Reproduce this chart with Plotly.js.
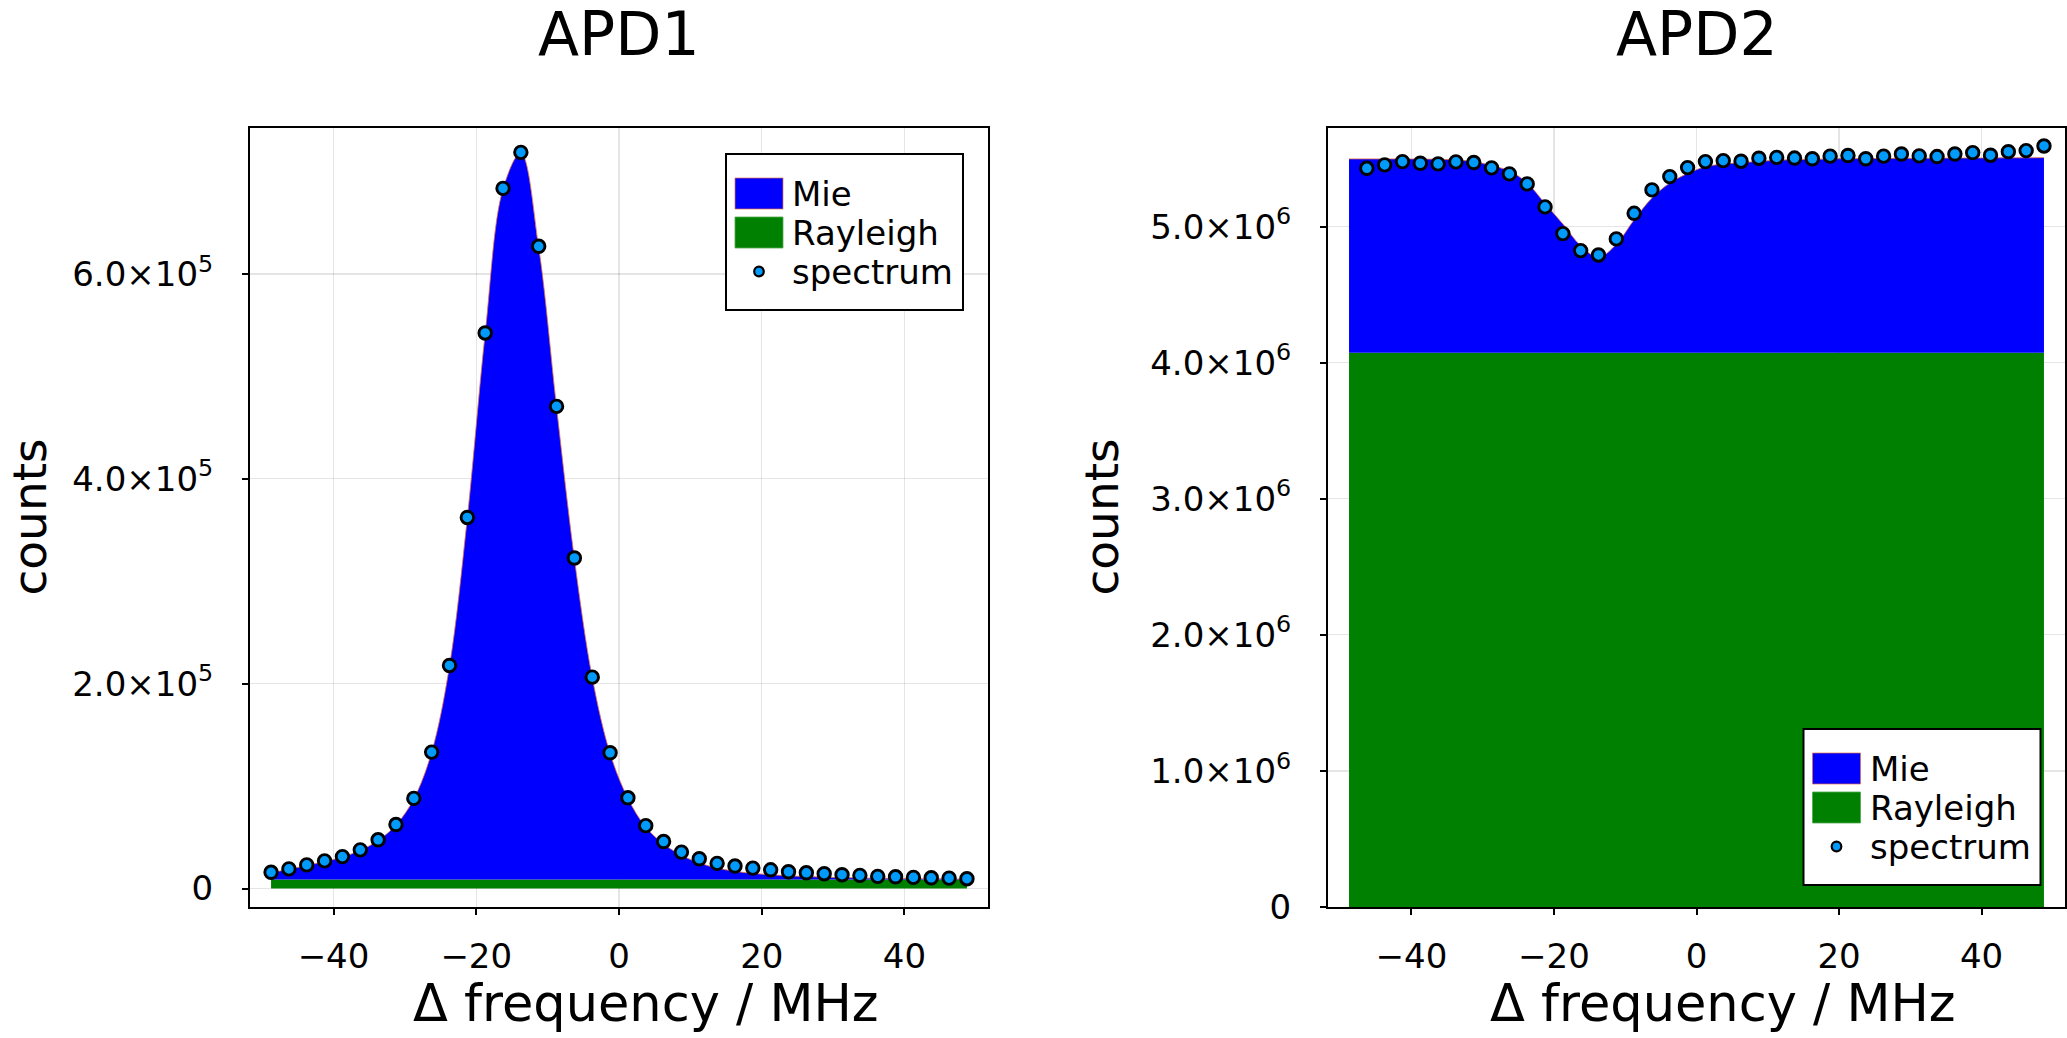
<!DOCTYPE html>
<html>
<head>
<meta charset="utf-8">
<script src="https://cdn.plot.ly/plotly-3.0.1.min.js"></script>
<style>html,body{margin:0;padding:0;background:#fff;}#plot{width:2067px;height:1038px;}</style>
</head>
<body>
<div id="plot"></div>
<script>
// ---------------- data ----------------
const freq = [-48.75,-46.25,-43.75,-41.25,-38.75,-36.25,-33.75,-31.25,-28.75,-26.25,-23.75,-21.25,-18.75,-16.25,-13.75,-11.25,-8.75,-6.25,-3.75,-1.25,1.25,3.75,6.25,8.75,11.25,13.75,16.25,18.75,21.25,23.75,26.25,28.75,31.25,33.75,36.25,38.75,41.25,43.75,46.25,48.75];

const apd1Spectrum = [15900,19200,23100,27000,31200,37800,47600,62500,88000,133200,217800,362300,542400,683600,718750,627000,470700,322700,206400,132600,88600,61400,45900,35600,29100,24600,22000,20000,18300,16400,15400,14500,13500,12900,11900,11500,10900,10500,10200,9600];
const apd1Rayleigh = [8800,8800,8800,8800,8800,8800,8800,8800,8800,8800,8800,8800,8800,8800,8800,8800,8800,8800,8800,8800,8800,8800,8800,8800,8800,8800,8800,8800,8800,8800,8800,8800,8800,8800,8800,8800,8800,8800,8800,8800];
const apd1Mie = [6700,10000,13700,17500,22000,28500,38200,53200,78700,124200,208200,353200,533200,674200,709200,617200,461200,313200,197200,123200,79200,51200,34700,23700,16200,11200,8000,6000,4600,3600,2900,2300,1900,1600,1300,1100,900,750,600,500];

const apd2Spectrum = [null,5429000,5454000,5478000,5466000,5461000,5476000,5471000,5432000,5388000,5314000,5145000,4949000,4824000,4792000,4910000,5098000,5270000,5368000,5434000,5478000,5485000,5481000,5503000,5509000,5504000,5499000,5518000,5523000,5499000,5518000,5534000,5520000,5515000,5534000,5544000,5525000,5551000,5559000,5593000];
const apd2Rayleigh = [4073000,4073000,4073000,4073000,4073000,4073000,4073000,4073000,4073000,4073000,4073000,4073000,4073000,4073000,4073000,4073000,4073000,4073000,4073000,4073000,4073000,4073000,4073000,4073000,4073000,4073000,4073000,4073000,4073000,4073000,4073000,4073000,4073000,4073000,4073000,4073000,4073000,4073000,4073000,4073000];
const apd2Mie = [1425000,1425000,1425000,1425000,1424000,1422000,1417000,1405000,1375000,1337000,1247000,1097000,947000,787000,702000,797000,977000,1137000,1247000,1317000,1367000,1387000,1397000,1407000,1415000,1420000,1423000,1425000,1427000,1427000,1428000,1429000,1430000,1430000,1431000,1432000,1432000,1433000,1433000,1434000];

const xTickVals = [-40,-20,0,20,40];
const xTickText = ['\u221240','\u221220','0','20','40'];
const y1TickVals = [0,200000,400000,600000];
const y1TickText = ['0','2.0\u00d710<sup>5</sup>','4.0\u00d710<sup>5</sup>','6.0\u00d710<sup>5</sup>'];
const y2TickVals = [0,1000000,2000000,3000000,4000000,5000000];
const y2TickText = ['0','1.0\u00d710<sup>6</sup>','2.0\u00d710<sup>6</sup>','3.0\u00d710<sup>6</sup>','4.0\u00d710<sup>6</sup>','5.0\u00d710<sup>6</sup>'];

const titles = ['APD1','APD2'];
const legendLabels = ['Mie','Rayleigh','spectrum'];
const xTitle = '\u0394 frequency / MHz';
const yTitle = 'counts';

// ---------------- styling ----------------
const FONT = 'DejaVu Sans, Verdana, sans-serif';
const BLUE = '#0000ff', GREEN = '#008000', MARK = '#009afa';
const W = 2067, H = 1038;
const M = {l: 250, r: 2, t: 128, b: 131};
const PW = W - M.l - M.r, PH = H - M.t - M.b;
const px = v => (v - M.l) / PW;
const py = v => (H - M.b - v) / PH;

function areaTraces(xa, ya, group, rayl, mie, spec) {
  return [
    {type: 'scatter', mode: 'lines', x: freq, y: rayl, stackgroup: group, xaxis: xa, yaxis: ya,
     fillcolor: GREEN, line: {width: 0, color: GREEN}, name: 'Rayleigh', hoverinfo: 'skip'},
    {type: 'scatter', mode: 'lines', x: freq, y: mie, stackgroup: group, xaxis: xa, yaxis: ya,
     fillcolor: BLUE, line: {width: 0.8, color: '#e26f46', shape: 'spline'}, name: 'Mie', hoverinfo: 'skip'},
    {type: 'scatter', mode: 'markers', x: freq, y: spec, xaxis: xa, yaxis: ya, name: 'spectrum',
     marker: {size: 12.5, color: MARK, line: {color: '#000', width: 2.9}}, cliponaxis: false}
  ];
}

const data = [
  ...areaTraces('x', 'y', 'apd1', apd1Rayleigh, apd1Mie, apd1Spectrum),
  ...areaTraces('x2', 'y2', 'apd2', apd2Rayleigh, apd2Mie, apd2Spectrum)
];

function xAxis(domain, anchor) {
  return {
    domain: domain, anchor: anchor, range: [-51.7, 51.7], automargin: false,
    showline: true, linecolor: '#000', linewidth: 2, mirror: true,
    ticks: 'outside', ticklen: 6, tickwidth: 2, tickcolor: '#000',
    tickmode: 'array', tickvals: xTickVals, ticktext: xTickText,
    tickfont: {family: FONT, size: 34, color: '#000'}, ticklabelstandoff: 12,
    showgrid: true, gridcolor: 'rgba(0,0,0,0.1)', gridwidth: 1.2, zeroline: false
  };
}
function yAxis(range, vals, text, anchor) {
  return {
    domain: [0, 1], anchor: anchor, range: range, automargin: false,
    showline: true, linecolor: '#000', linewidth: 2, mirror: true,
    ticks: 'outside', ticklen: 6, tickwidth: 2, tickcolor: '#000',
    tickmode: 'array', tickvals: vals, ticktext: text,
    tickfont: {family: FONT, size: 34, color: '#000'}, ticklabelstandoff: 22,
    showgrid: true, gridcolor: 'rgba(0,0,0,0.1)', gridwidth: 1.2, zeroline: false
  };
}

const shapes = [], annotations = [];
function addLegend(left, top) {
  const boxW = 237, boxH = 156;
  shapes.push({type: 'rect', xref: 'paper', yref: 'paper', layer: 'above',
    x0: px(left), x1: px(left + boxW), y0: py(top + boxH), y1: py(top),
    line: {color: '#000', width: 2}, fillcolor: '#fff'});
  shapes.push({type: 'rect', xref: 'paper', yref: 'paper', layer: 'above',
    x0: px(left + 9), x1: px(left + 57), y0: py(top + 55), y1: py(top + 24),
    line: {color: 'rgba(226,111,70,0.7)', width: 1}, fillcolor: BLUE});
  shapes.push({type: 'rect', xref: 'paper', yref: 'paper', layer: 'above',
    x0: px(left + 9), x1: px(left + 57), y0: py(top + 94), y1: py(top + 63),
    line: {color: 'rgba(80,170,80,0.8)', width: 1}, fillcolor: GREEN});
  shapes.push({type: 'circle', xref: 'paper', yref: 'paper', layer: 'above',
    xsizemode: 'pixel', ysizemode: 'pixel', xanchor: px(left + 33), yanchor: py(top + 117.5),
    x0: -4.8, x1: 4.8, y0: -4.8, y1: 4.8,
    line: {color: '#000', width: 2.2}, fillcolor: MARK});
  const rows = [top + 39.5, top + 78.5, top + 117.5];
  legendLabels.forEach((t, i) => annotations.push({
    text: t, xref: 'paper', yref: 'paper', x: px(left + 65), y: py(rows[i]),
    xanchor: 'left', yanchor: 'middle', showarrow: false, borderpad: 0,
    font: {family: FONT, size: 34, color: '#000'}
  }));
}
addLegend(726, 154);
addLegend(1803.5, 729);

function addText(t, xPx, yPx, size, angle) {
  annotations.push({text: t, xref: 'paper', yref: 'paper', x: px(xPx), y: py(yPx),
    xanchor: 'center', yanchor: 'middle', showarrow: false, borderpad: 0, textangle: angle || 0,
    font: {family: FONT, size: size, color: '#000'}});
}
// subplot titles
addText(titles[0], 619, 34, 60);
addText(titles[1], 1696.5, 34, 60);
// axis titles
addText(xTitle, 646, 1003, 51);
addText(xTitle, 1723, 1003, 51);
addText(yTitle, 29, 517.5, 47, -90);
addText(yTitle, 1101, 517.5, 47, -90);

const layout = {
  width: W, height: H, margin: {l: M.l, r: M.r, t: M.t, b: M.b, pad: 0},
  paper_bgcolor: '#fff', plot_bgcolor: '#fff', showlegend: false,
  font: {family: FONT, color: '#000'},
  xaxis: xAxis([0, px(988)], 'y'),
  yaxis: yAxis([-18000, 742500], y1TickVals, y1TickText, 'x'),
  xaxis2: xAxis([px(1328), 1], 'y2'),
  yaxis2: yAxis([0, 5725000], y2TickVals, y2TickText, 'x2'),
  shapes: shapes, annotations: annotations
};

Plotly.newPlot('plot', data, layout, {staticPlot: true, displayModeBar: false});
</script>
</body>
</html>
